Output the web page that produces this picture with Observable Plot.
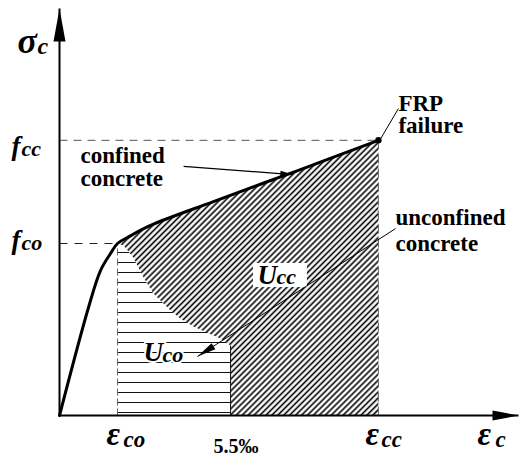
<!DOCTYPE html>
<html><head><meta charset="utf-8">
<script src="https://cdn.jsdelivr.net/npm/d3@7"></script>
<script src="https://cdn.jsdelivr.net/npm/@observablehq/plot@0.6"></script>
<style>
body{margin:0;background:#fff}
#chart svg{display:block}
#chart svg text{font-family:'Liberation Serif','Times New Roman',serif}
</style>
</head><body><div id="chart"></div>
<script>
// Schematic units: strain axis (eps_co = 2), stress axis (f_co = 1)
const epsCo = 2, eps55 = 5.9, epsCc = 11;
const fCo = 1, fCc = 1.6;
const xAxisEnd = 15.83, yAxisEnd = 2.366;

// confined (FRP) stress-strain curve
const confinedX = [0, 1.0, 1.414, 1.759, 2, 2.345, 3.138, 5.31, 8.31, 11];
const confinedY = [0, 0.628, 0.843, 0.942, 1, 1.035, 1.105, 1.244, 1.43, 1.6];
// unconfined descending branch (from peak to 5.5 per mille)
const unconfX = [2, 2.21, 2.55, 2.9, 3.24, 3.83, 4.17, 4.62, 5.55, 5.9];
const unconfY = [1, 0.988, 0.919, 0.802, 0.709, 0.610, 0.564, 0.517, 0.448, 0.407];

// labels
const strainTicks = [
  {x: epsCo, base: "ε", sub: "co"},
  {x: epsCc, base: "ε", sub: "cc"},
  {x: xAxisEnd, base: "ε", sub: "c"}
];
const strainText = ["5.5‰"];
const stressTicks = [
  {y: fCc, base: "f", sub: "cc"},
  {y: fCo, base: "f", sub: "co"}
];
const curveLabels = [["confined", "concrete"], ["unconfined", "concrete"], ["FRP", "failure"]];
const areaLabels = [{base: "U", sub: "cc"}, {base: "U", sub: "co"}];

const serif = "Liberation Serif, Times New Roman, serif";

const confined = confinedX.map((x, i) => ({x, y: confinedY[i]}));
const unconf = unconfX.map((x, i) => ({x, y: unconfY[i]}));
const horizPoly = [{x: epsCo, y: 0}, ...unconf, {x: eps55, y: 0}];
const diagPoly = [...confined.filter(d => d.x >= epsCo), {x: epsCc, y: 0}, {x: eps55, y: 0}, ...unconf.slice().reverse()];

const one = [0];
const link = (x1, y1, x2, y2, o) => Plot.link(one, {x1: [x1], y1: [y1], x2: [x2], y2: [y2], ...o});
const txt = (x, y, t, o) => Plot.text(one, {x: [x], y: [y], text: [t], textAnchor: "start", lineAnchor: "bottom",
  fontFamily: serif, fill: "black", ...o});

const marks = [
  Plot.line(horizPoly, {x: "x", y: "y", fill: "#ccc", stroke: "none", ariaDescription: "hhatch"}),
  Plot.line(diagPoly, {x: "x", y: "y", fill: "#999", stroke: "none", ariaDescription: "dhatch"}),
  // guide lines
  link(0, fCc, epsCc, fCc, {stroke: "#555", strokeWidth: 1, strokeDasharray: "8,6"}),
  link(0, fCo, epsCo, fCo, {stroke: "#222", strokeWidth: 1, strokeDasharray: "8,7"}),
  link(epsCo, 0, epsCo, fCo, {stroke: "#666", strokeWidth: 1, strokeDasharray: "7,3"}),
  link(epsCc, 0, epsCc, fCc, {stroke: "#666", strokeWidth: 1, strokeDasharray: "9,5"}),
  link(eps55, 0, eps55, unconfY[unconfY.length - 1], {stroke: "#111", strokeWidth: 1}),
  // U_cc white box
  Plot.rect(one, {x1: [6.69], x2: [8.55], y1: [0.744], y2: [0.884], fill: "white"}),
  // leaders
  link(11.59, 1.087, 4.76, 0.343, {stroke: "black", strokeWidth: 1, ariaDescription: "lead-uco"}),
  link(4.28, 1.448, 8.03, 1.401, {stroke: "black", strokeWidth: 1.2, ariaDescription: "lead-conf"}),
  link(11.69, 1.785, 11.08, 1.61, {stroke: "black", strokeWidth: 1}),
  // curve
  Plot.line(confined, {x: "x", y: "y", stroke: "black", strokeWidth: 3, curve: "catmull-rom", strokeLinejoin: "round"}),
  Plot.dot(one, {x: [epsCc], y: [fCc], r: 3.2, fill: "black"}),
  // axes
  link(0, 0, xAxisEnd, 0, {stroke: "black", strokeWidth: 2, ariaDescription: "axis-x"}),
  link(0, 0, 0, yAxisEnd, {stroke: "black", strokeWidth: 2, ariaDescription: "axis-y"}),
  // stress axis title
  txt(0, yAxisEnd, "σ", {dx: -42, dy: 44, fontSize: 36, fontWeight: "bold", fontStyle: "italic"}),
  txt(0, yAxisEnd, "c", {dx: -22, dy: 45, fontSize: 24, fontWeight: "bold", fontStyle: "italic"}),
  // stress ticks
  ...stressTicks.flatMap((d, i) => [
    txt(0, d.y, d.base, {dx: -48, dy: i === 0 ? 15 : 5, fontSize: 27, fontStyle: "italic", fontWeight: "bold"}),
    txt(0, d.y, d.sub, {dx: -38, dy: i === 0 ? 16 : 6, fontSize: 22, fontStyle: "italic", fontWeight: "bold"})
  ]),
  // strain ticks
  ...strainTicks.flatMap((d, i) => {
    const off = [[-11, 6], [-13, 3], [-41, -23]][i];
    return [
      txt(d.x, 0, d.base, {dx: off[0], dy: 29, fontSize: 33, fontWeight: "bold", fontStyle: "italic"}),
      txt(d.x, 0, d.sub, {dx: off[1], dy: 31, fontSize: 23, fontWeight: "bold", fontStyle: "italic"})
    ];
  }),
  txt(eps55, 0, strainText[0], {dx: -17, dy: 37, fontSize: 20, fontWeight: "bold"}),
  // curve labels
  txt(0.724, 1.471, curveLabels[0][0], {fontSize: 23, fontWeight: "bold"}),
  txt(0.724, 1.337, curveLabels[0][1], {fontSize: 23, fontWeight: "bold"}),
  txt(11.59, 1.105, curveLabels[1][0], {fontSize: 23, fontWeight: "bold"}),
  txt(11.59, 0.959, curveLabels[1][1], {fontSize: 23, fontWeight: "bold"}),
  txt(11.69, 1.773, curveLabels[2][0], {fontSize: 23, fontWeight: "bold"}),
  txt(11.69, 1.640, curveLabels[2][1], {fontSize: 23, fontWeight: "bold"}),
  // area labels
  txt(6.83, 0.762, areaLabels[0].base, {fontSize: 27, fontWeight: "bold", fontStyle: "italic"}),
  txt(6.83, 0.762, areaLabels[0].sub, {dx: 19, fontSize: 22, fontWeight: "bold", fontStyle: "italic"}),
  txt(2.90, 0.314, areaLabels[1].base, {fontSize: 27, fontWeight: "bold", fontStyle: "italic", stroke: "white", strokeWidth: 4}),
  txt(2.90, 0.314, areaLabels[1].sub, {dx: 19, dy: 1, fontSize: 22, fontWeight: "bold", fontStyle: "italic", stroke: "white", strokeWidth: 4})
];

const plot = Plot.plot({
  width: 520, height: 459,
  marginLeft: 59, marginRight: 0, marginTop: 0, marginBottom: 44,
  x: {domain: [0, 15.9], axis: null},
  y: {domain: [0, 2.413], axis: null},
  style: {background: "white", overflow: "visible"},
  marks
});

const svg = d3.select(plot);
const defs = svg.insert("defs", ":first-child");
const ph = defs.append("pattern").attr("id", "hHatch").attr("patternUnits", "userSpaceOnUse")
  .attr("width", 8).attr("height", 10);
ph.append("rect").attr("x", 0).attr("y", 2).attr("width", 8).attr("height", 1).attr("fill", "#111");
const pd = defs.append("pattern").attr("id", "dHatch").attr("patternUnits", "userSpaceOnUse")
  .attr("width", 4.2).attr("height", 4.2).attr("patternTransform", "rotate(45)");
pd.append("rect").attr("x", 1.3).attr("y", 0).attr("width", 1.6).attr("height", 4.2).attr("fill", "#000");

function marker(id, len, half) {
  const m = defs.append("marker").attr("id", id).attr("markerUnits", "userSpaceOnUse").attr("orient", "auto")
    .attr("markerWidth", len + 2).attr("markerHeight", 2 * half + 2)
    .attr("refX", len).attr("refY", half).style("overflow", "visible");
  m.append("path").attr("d", `M0,0L${len},${half}L0,${2 * half}Z`).attr("fill", "black");
}
marker("mX", 26, 5);
marker("mY", 33, 6);
marker("mUco", 19, 3.5);
marker("mConf", 12, 3);

svg.selectAll('[aria-description="hhatch"]').attr("fill", "url(#hHatch)").attr("transform", null)
  .selectAll("path").attr("fill", "url(#hHatch)");
svg.selectAll('[aria-description="dhatch"]').attr("fill", "url(#dHatch)")
  .selectAll("path").attr("fill", "url(#dHatch)");
svg.selectAll('[aria-description="axis-x"] path, [aria-description="axis-x"] line').attr("marker-end", "url(#mX)");
svg.selectAll('[aria-description="axis-y"] path, [aria-description="axis-y"] line').attr("marker-end", "url(#mY)");
svg.selectAll('[aria-description="lead-uco"] path, [aria-description="lead-uco"] line').attr("marker-end", "url(#mUco)");
svg.selectAll('[aria-description="lead-conf"] path, [aria-description="lead-conf"] line').attr("marker-end", "url(#mConf)");

document.getElementById("chart").appendChild(plot);
</script>
</body></html>
